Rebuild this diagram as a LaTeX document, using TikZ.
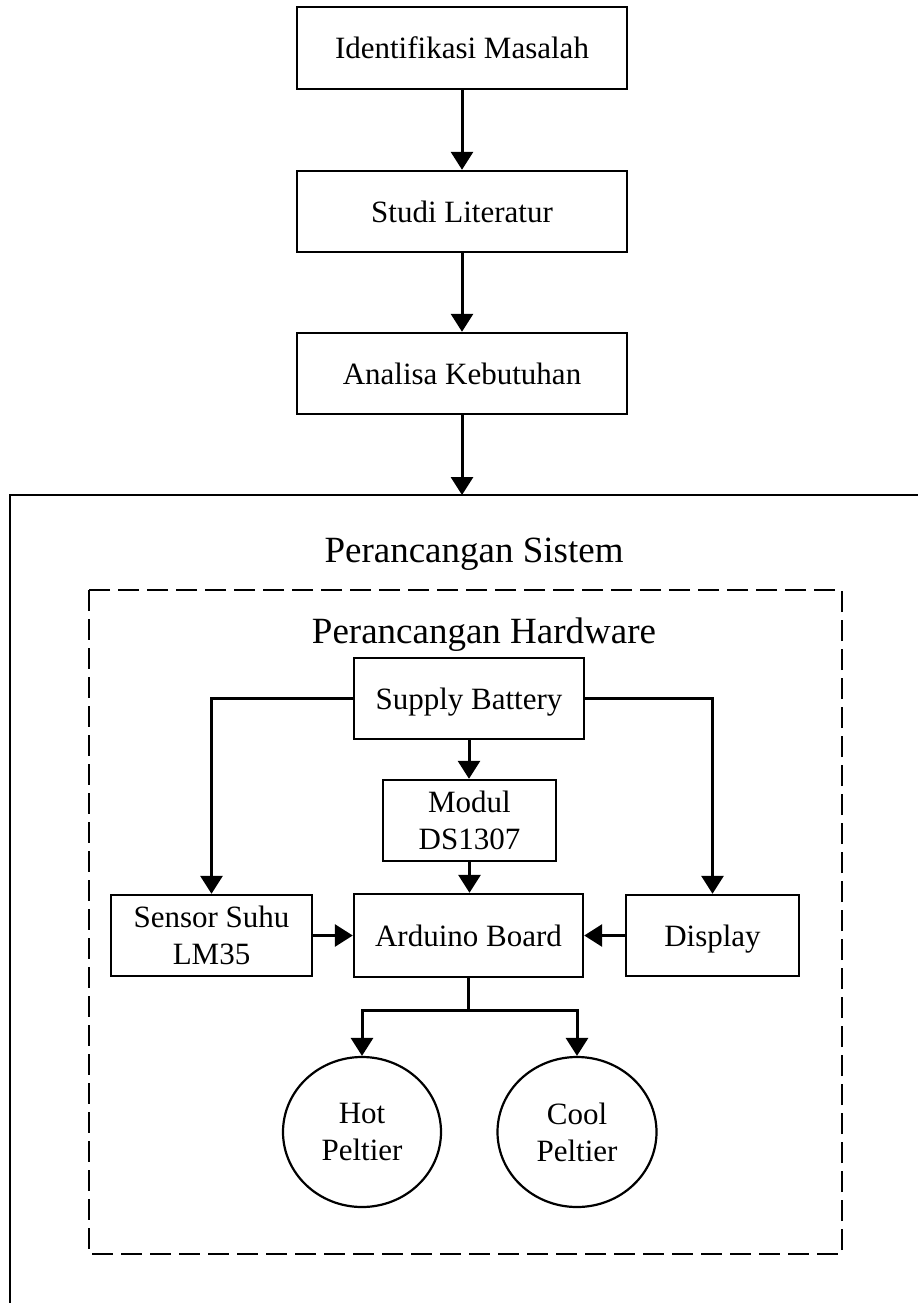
\documentclass[tikz,border=0pt]{standalone}
\usepackage{fontspec}
\setmainfont{Liberation Serif}
\usetikzlibrary{arrows.meta,shapes.geometric}
\begin{document}
\begin{tikzpicture}[x=1pt,y=-1pt,
  box/.style={draw, line width=2.4pt, inner sep=0pt, align=center, font=\fontsize{31}{37}\selectfont},
  oneline/.style={text height=22pt, text depth=0pt},
  circ/.style={ellipse, draw, line width=2.2pt, inner sep=0pt, align=center, font=\fontsize{31}{37}\selectfont},
  arr/.style={line width=3pt, -{Triangle[width=22pt,length=18pt]}},
  title/.style={font=\fontsize{37}{44}\selectfont, anchor=base, inner sep=0pt},
  frame/.style={line width=2.2pt},
  dashframe/.style={line width=2.2pt, dash pattern=on 21pt off 8pt}]
\useasboundingbox (0,0) rectangle (918,1303);
% outer frame (cut by the page)
\draw[frame] (10,1303) -- (10,495) -- (918,495);
\draw[dashframe] (89,590) rectangle (842,1254);
% titles
\node[title] (tsys) at (474,562) {Perancangan Sistem};
\node[title] (thw) at (484,643) {Perancangan Hardware};
% top chain
\node[box, oneline, minimum width=330pt, minimum height=82pt] (idm) at (462,48) {Identifikasi Masalah};
\node[box, oneline, minimum width=330pt, minimum height=81pt] (studi) at (462,211.5) {Studi Literatur};
\node[box, oneline, minimum width=330pt, minimum height=81pt] (analisa) at (462,373.5) {Analisa Kebutuhan};
\coordinate (otop) at (462,495);
% hardware
\node[box, oneline, minimum width=230pt, minimum height=81pt] (supply) at (469,698.5) {Supply Battery};
\node[box, minimum width=173pt, minimum height=81pt] (modul) at (469.5,820.5) {Modul\\DS1307};
\node[box, minimum width=201pt, minimum height=81pt] (sensor) at (211.5,935.5) {Sensor Suhu\\LM35};
\node[box, oneline, minimum width=229pt, minimum height=83pt] (arduino) at (468.5,935.5) {Arduino Board};
\node[box, oneline, minimum width=173pt, minimum height=81pt] (display) at (712.5,935.5) {Display};
\node[circ, minimum width=158pt, minimum height=150pt] (hot) at (362,1132) {Hot\\Peltier};
\node[circ, minimum width=159pt, minimum height=150pt] (cool) at (577,1132) {Cool\\Peltier};
\coordinate (br) at (468.5,1010);
% connectors
\draw[arr] (idm.south) -- (studi.north);
\draw[arr] (studi.south) -- (analisa.north);
\draw[arr] (analisa.south) -- (otop);
\draw[arr] (supply.west) -| (sensor.north);
\draw[arr] (supply.east) -| (display.north);
\draw[arr] (supply.south) -- (supply.south |- modul.north);
\draw[arr] (modul.south) -- (modul.south |- arduino.north);
\draw[arr] (sensor.east) -- (sensor.east -| arduino.west);
\draw[arr] (display.west) -- (display.west -| arduino.east);
\draw[arr] (arduino.south) -- (br) -| (hot.north);
\draw[arr] (arduino.south) -- (br) -| (cool.north);
\end{tikzpicture}
\end{document}
